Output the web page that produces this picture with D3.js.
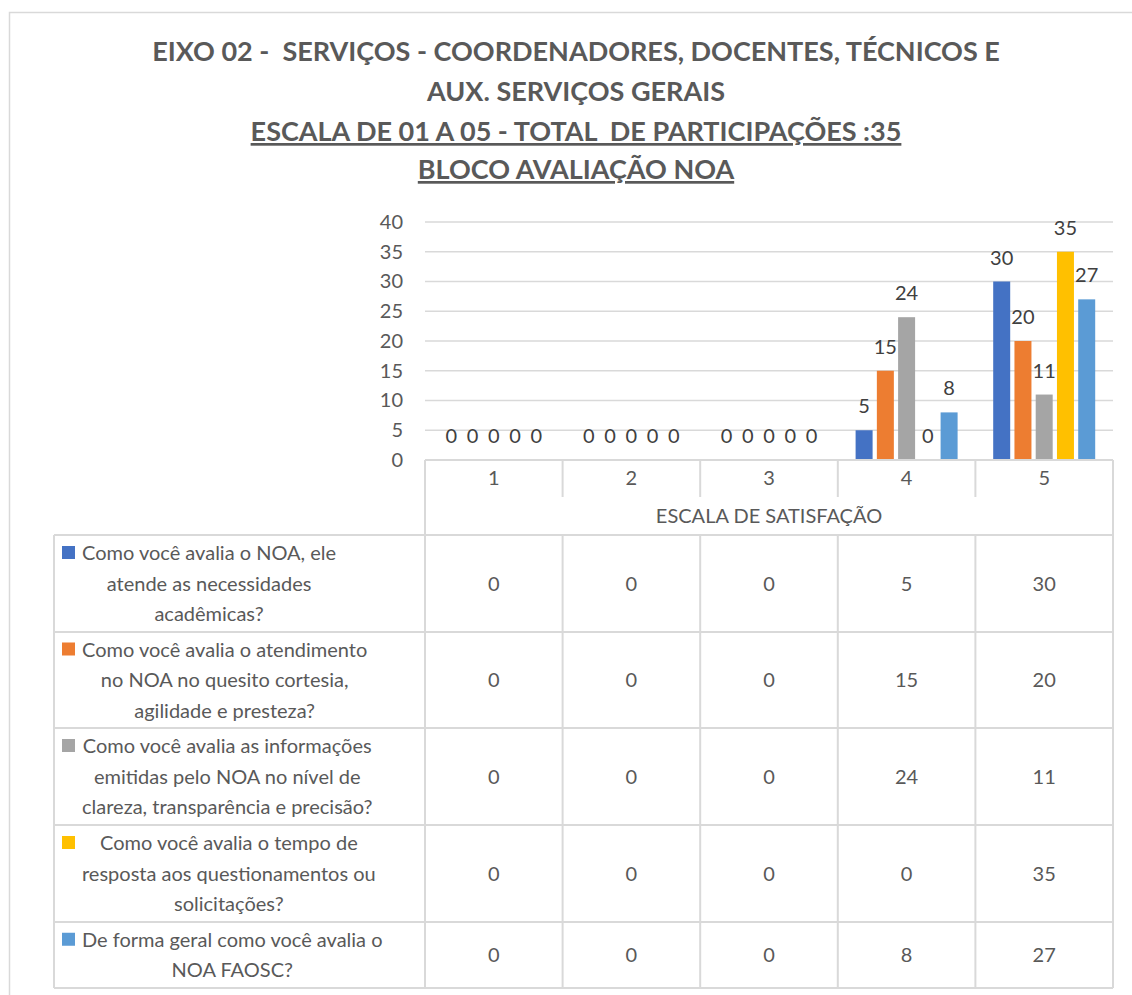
<!DOCTYPE html>
<html>
<head>
<meta charset="utf-8">
<script src="https://cdn.jsdelivr.net/npm/d3@7"></script>
<style>
  body { margin: 0; background: #fff; }
  svg { display: block; font-family: Lato, "Open Sans", sans-serif; }
</style>
</head>
<body>
<div id="chart-container"></div>
<script>
// chart data
const categories = ["1", "2", "3", "4", "5"];
const seriesNames = [
  "Como você avalia o NOA, ele atende as necessidades acadêmicas?",
  "Como você avalia o atendimento no NOA no quesito cortesia, agilidade e presteza?",
  "Como você avalia as informações emitidas pelo NOA no nível de clareza, transparência e precisão?",
  "Como você avalia o tempo de resposta aos questionamentos ou solicitações?",
  "De forma geral como você avalia o NOA FAOSC?"
];
// wrapped lines of the row headers, as they show in the table
const seriesLines = [
  ["Como você avalia o NOA, ele", "atende as necessidades", "acadêmicas?"],
  ["Como você avalia o atendimento", "no NOA no quesito cortesia,", "agilidade e presteza?"],
  ["Como você avalia as informações", "emitidas pelo NOA no nível de", "clareza, transparência e precisão?"],
  ["Como você avalia o tempo de", "resposta aos questionamentos ou", "solicitações?"],
  ["De forma geral como você avalia o", "NOA FAOSC?"]
];
const values1 = [0, 0, 0, 5, 30];
const values2 = [0, 0, 0, 15, 20];
const values3 = [0, 0, 0, 24, 11];
const values4 = [0, 0, 0, 0, 35];
const values5 = [0, 0, 0, 8, 27];
const allValues = [values1, values2, values3, values4, values5];
const yTicks = [0, 5, 10, 15, 20, 25, 30, 35, 40];
const colors = ["#4472C4", "#ED7D31", "#A5A5A5", "#FFC000", "#5B9BD5"];
const titleLines = [
  "EIXO 02 -  SERVIÇOS - COORDENADORES, DOCENTES, TÉCNICOS E",
  "AUX. SERVIÇOS GERAIS",
  "ESCALA DE 01 A 05 - TOTAL  DE PARTICIPAÇÕES :35",
  "BLOCO AVALIAÇÃO NOA"
];
const axisTitle = "ESCALA DE SATISFAÇÃO";

// layout
const W = 1132, H = 995;
const plot = { left: 425, right: 1113, top: 222, bottom: 460 };
const tableLeft = 54;
const catRowBottom = 497;
const headerBottom = 535;
const rowHeights = [97, 96, 97, 97, 66];
const grid = "#d9d9d9";
const textColor = "#595959";
const fs = "20px";

const svg = d3.select("#chart-container")
  .append("svg")
  .attr("width", W)
  .attr("height", H);

// outer chart frame
svg.append("rect")
  .attr("x", 9.5).attr("y", 12.5)
  .attr("width", W + 10).attr("height", H + 10)
  .attr("fill", "none")
  .attr("stroke", grid)
  .attr("stroke-width", 1.5);

// title
const titleY = [61, 101, 141, 179];
titleLines.forEach((t, i) => {
  const txt = svg.append("text")
    .attr("x", 576)
    .attr("y", titleY[i])
    .attr("text-anchor", "middle")
    .style("font-size", "27px")
    .style("font-weight", "bold")
    .style("fill", textColor)
    .style("white-space", "pre")
    .text(t);
  if (i >= 2) txt.style("text-decoration", "underline");
});

// scales
const xScale = d3.scaleBand()
  .domain(categories)
  .range([plot.left, plot.right]);

const xInner = d3.scaleBand()
  .domain(d3.range(allValues.length))
  .range([17.8, xScale.bandwidth() - 17.8])
  .paddingInner(0.2);

const yScale = d3.scaleLinear()
  .domain([0, 40])
  .range([plot.bottom, plot.top]);

// horizontal gridlines
svg.selectAll(".ygrid")
  .data(yTicks.slice(1))
  .join("line")
  .attr("class", "ygrid")
  .attr("x1", plot.left).attr("x2", plot.right)
  .attr("y1", d => yScale(d)).attr("y2", d => yScale(d))
  .attr("stroke", grid)
  .attr("stroke-width", 1.3);

// y axis labels
svg.append("g")
  .attr("transform", `translate(${plot.left},0)`)
  .style("font-size", fs)
  .call(d3.axisLeft(yScale).tickValues(yTicks).tickSize(0).tickPadding(22))
  .call(g => g.select(".domain").remove())
  .selectAll(".tick text")
  .style("font-family", "Lato, sans-serif")
  .attr("fill", textColor);

// bars
allValues.forEach((vals, s) => {
  const g = svg.append("g");
  g.selectAll("rect")
    .data(vals)
    .join("rect")
    .attr("x", (d, i) => xScale(categories[i]) + xInner(s))
    .attr("y", d => yScale(d))
    .attr("width", xInner.bandwidth())
    .attr("height", d => yScale(0) - yScale(d))
    .attr("fill", colors[s]);

  g.selectAll("text")
    .data(vals)
    .join("text")
    .attr("x", (d, i) => xScale(categories[i]) + xInner(s) + xInner.bandwidth() / 2)
    .attr("y", d => yScale(d) - 17)
    .attr("text-anchor", "middle")
    .style("font-size", fs)
    .style("fill", "#404040")
    .text(d => d);
});

// ---- data table ----
const lines = svg.append("g")
  .attr("stroke", grid)
  .attr("stroke-width", 2)
  .attr("fill", "none");

// axis line
lines.append("line")
  .attr("x1", plot.left).attr("x2", plot.right)
  .attr("y1", plot.bottom).attr("y2", plot.bottom);

// category row separators
const bounds = categories.map(c => xScale(c)).concat([plot.right]);
bounds.forEach((x, i) => {
  const outer = i === 0 || i === bounds.length - 1;
  lines.append("line")
    .attr("x1", x).attr("x2", x)
    .attr("y1", plot.bottom)
    .attr("y2", outer ? headerBottom : catRowBottom);
});

// category labels
svg.selectAll(".catlabel")
  .data(categories)
  .join("text")
  .attr("class", "catlabel")
  .attr("x", d => xScale(d) + xScale.bandwidth() / 2)
  .attr("y", 485)
  .attr("text-anchor", "middle")
  .style("font-size", fs)
  .style("fill", textColor)
  .text(d => d);

svg.append("text")
  .attr("x", (plot.left + plot.right) / 2)
  .attr("y", 523)
  .attr("text-anchor", "middle")
  .style("font-size", fs)
  .style("fill", textColor)
  .text(axisTitle);

// rows
const rowTops = [headerBottom];
rowHeights.forEach(h => rowTops.push(rowTops[rowTops.length - 1] + h));
const tableBottom = rowTops[rowTops.length - 1];

rowTops.forEach(y => {
  lines.append("line")
    .attr("x1", tableLeft).attr("x2", plot.right)
    .attr("y1", y).attr("y2", y);
});
[tableLeft].concat(bounds).forEach(x => {
  lines.append("line")
    .attr("x1", x).attr("x2", x)
    .attr("y1", headerBottom).attr("y2", tableBottom);
});

const lineH = 30.5;
seriesLines.forEach((ls, r) => {
  const top = rowTops[r], h = rowHeights[r];
  const firstY = top + h / 2 - (ls.length - 1) * lineH / 2;

  // legend key
  svg.append("rect")
    .attr("x", 62).attr("y", firstY - 7)
    .attr("width", 13).attr("height", 13)
    .attr("fill", colors[r]);

  const txt = svg.append("g");
  ls.forEach((l, k) => {
    txt.append("text")
      .attr("y", firstY + k * lineH + 7)
      .attr("text-anchor", "middle")
      .style("font-size", fs)
      .style("fill", textColor)
      .text(l);
  });
  const maxW = d3.max(txt.selectAll("text").nodes(), n => n.getComputedTextLength());
  txt.selectAll("text").attr("x", 82 + maxW / 2);

  // values
  allValues[r].forEach((v, i) => {
    svg.append("text")
      .attr("x", xScale(categories[i]) + xScale.bandwidth() / 2)
      .attr("y", top + h / 2 + 7)
      .attr("text-anchor", "middle")
      .style("font-size", fs)
      .style("fill", textColor)
      .text(v);
  });
});
</script>
</body>
</html>
